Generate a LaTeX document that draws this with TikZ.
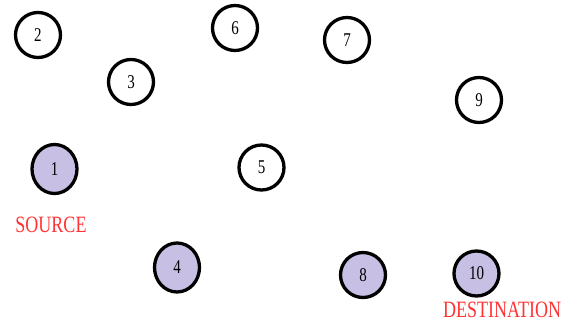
\documentclass[tikz,border=0pt]{standalone}
\usepackage{fontspec}
\setmainfont{Liberation Serif}
\usetikzlibrary{shapes.geometric}
\definecolor{hostfill}{RGB}{200,192,228}
\definecolor{tagred}{RGB}{255,51,51}
\newcommand{\tallbox}[1]{\scalebox{1}[1.3]{#1}}
\tikzstyle{host}=[ellipse, draw, line width=3.3pt, minimum width=45pt, minimum height=45pt, inner sep=0pt, font=\fontsize{15}{15}\selectfont]
\tikzstyle{endhost}=[host, fill=hostfill, minimum height=49pt]
\tikzstyle{tag}=[text=tagred, inner sep=0pt, font=\fontsize{18}{18}\selectfont]

\begin{document}
\begin{tikzpicture}[x=1pt, y=-1pt]
  \useasboundingbox (0,0) rectangle (571,321);
  \node[host] (n2) at (38,35) {\tallbox{2}};
  \node[host] (n6) at (235,28) {\tallbox{6}};
  \node[host] (n3) at (131,82) {\tallbox{3}};
  \node[host] (n7) at (347,40) {\tallbox{7}};
  \node[host] (n9) at (479,100) {\tallbox{9}};
  \node[endhost] (n1) at (54.5,169) {\tallbox{1}};
  \node[host] (n5) at (261.5,167.5) {\tallbox{5}};
  \node[endhost] (n4) at (177,267.5) {\tallbox{4}};
  \node[endhost, minimum height=45pt] (n8) at (363,275) {\tallbox{8}};
  \node[endhost, minimum height=45pt] (n10) at (476.5,273.5) {\tallbox{10}};
  \node[tag] (src) at (51,225) {\tallbox{SOURCE}};
  \node[tag] (dst) at (502,309.5) {\tallbox{DESTINATION}};
\end{tikzpicture}
\end{document}
